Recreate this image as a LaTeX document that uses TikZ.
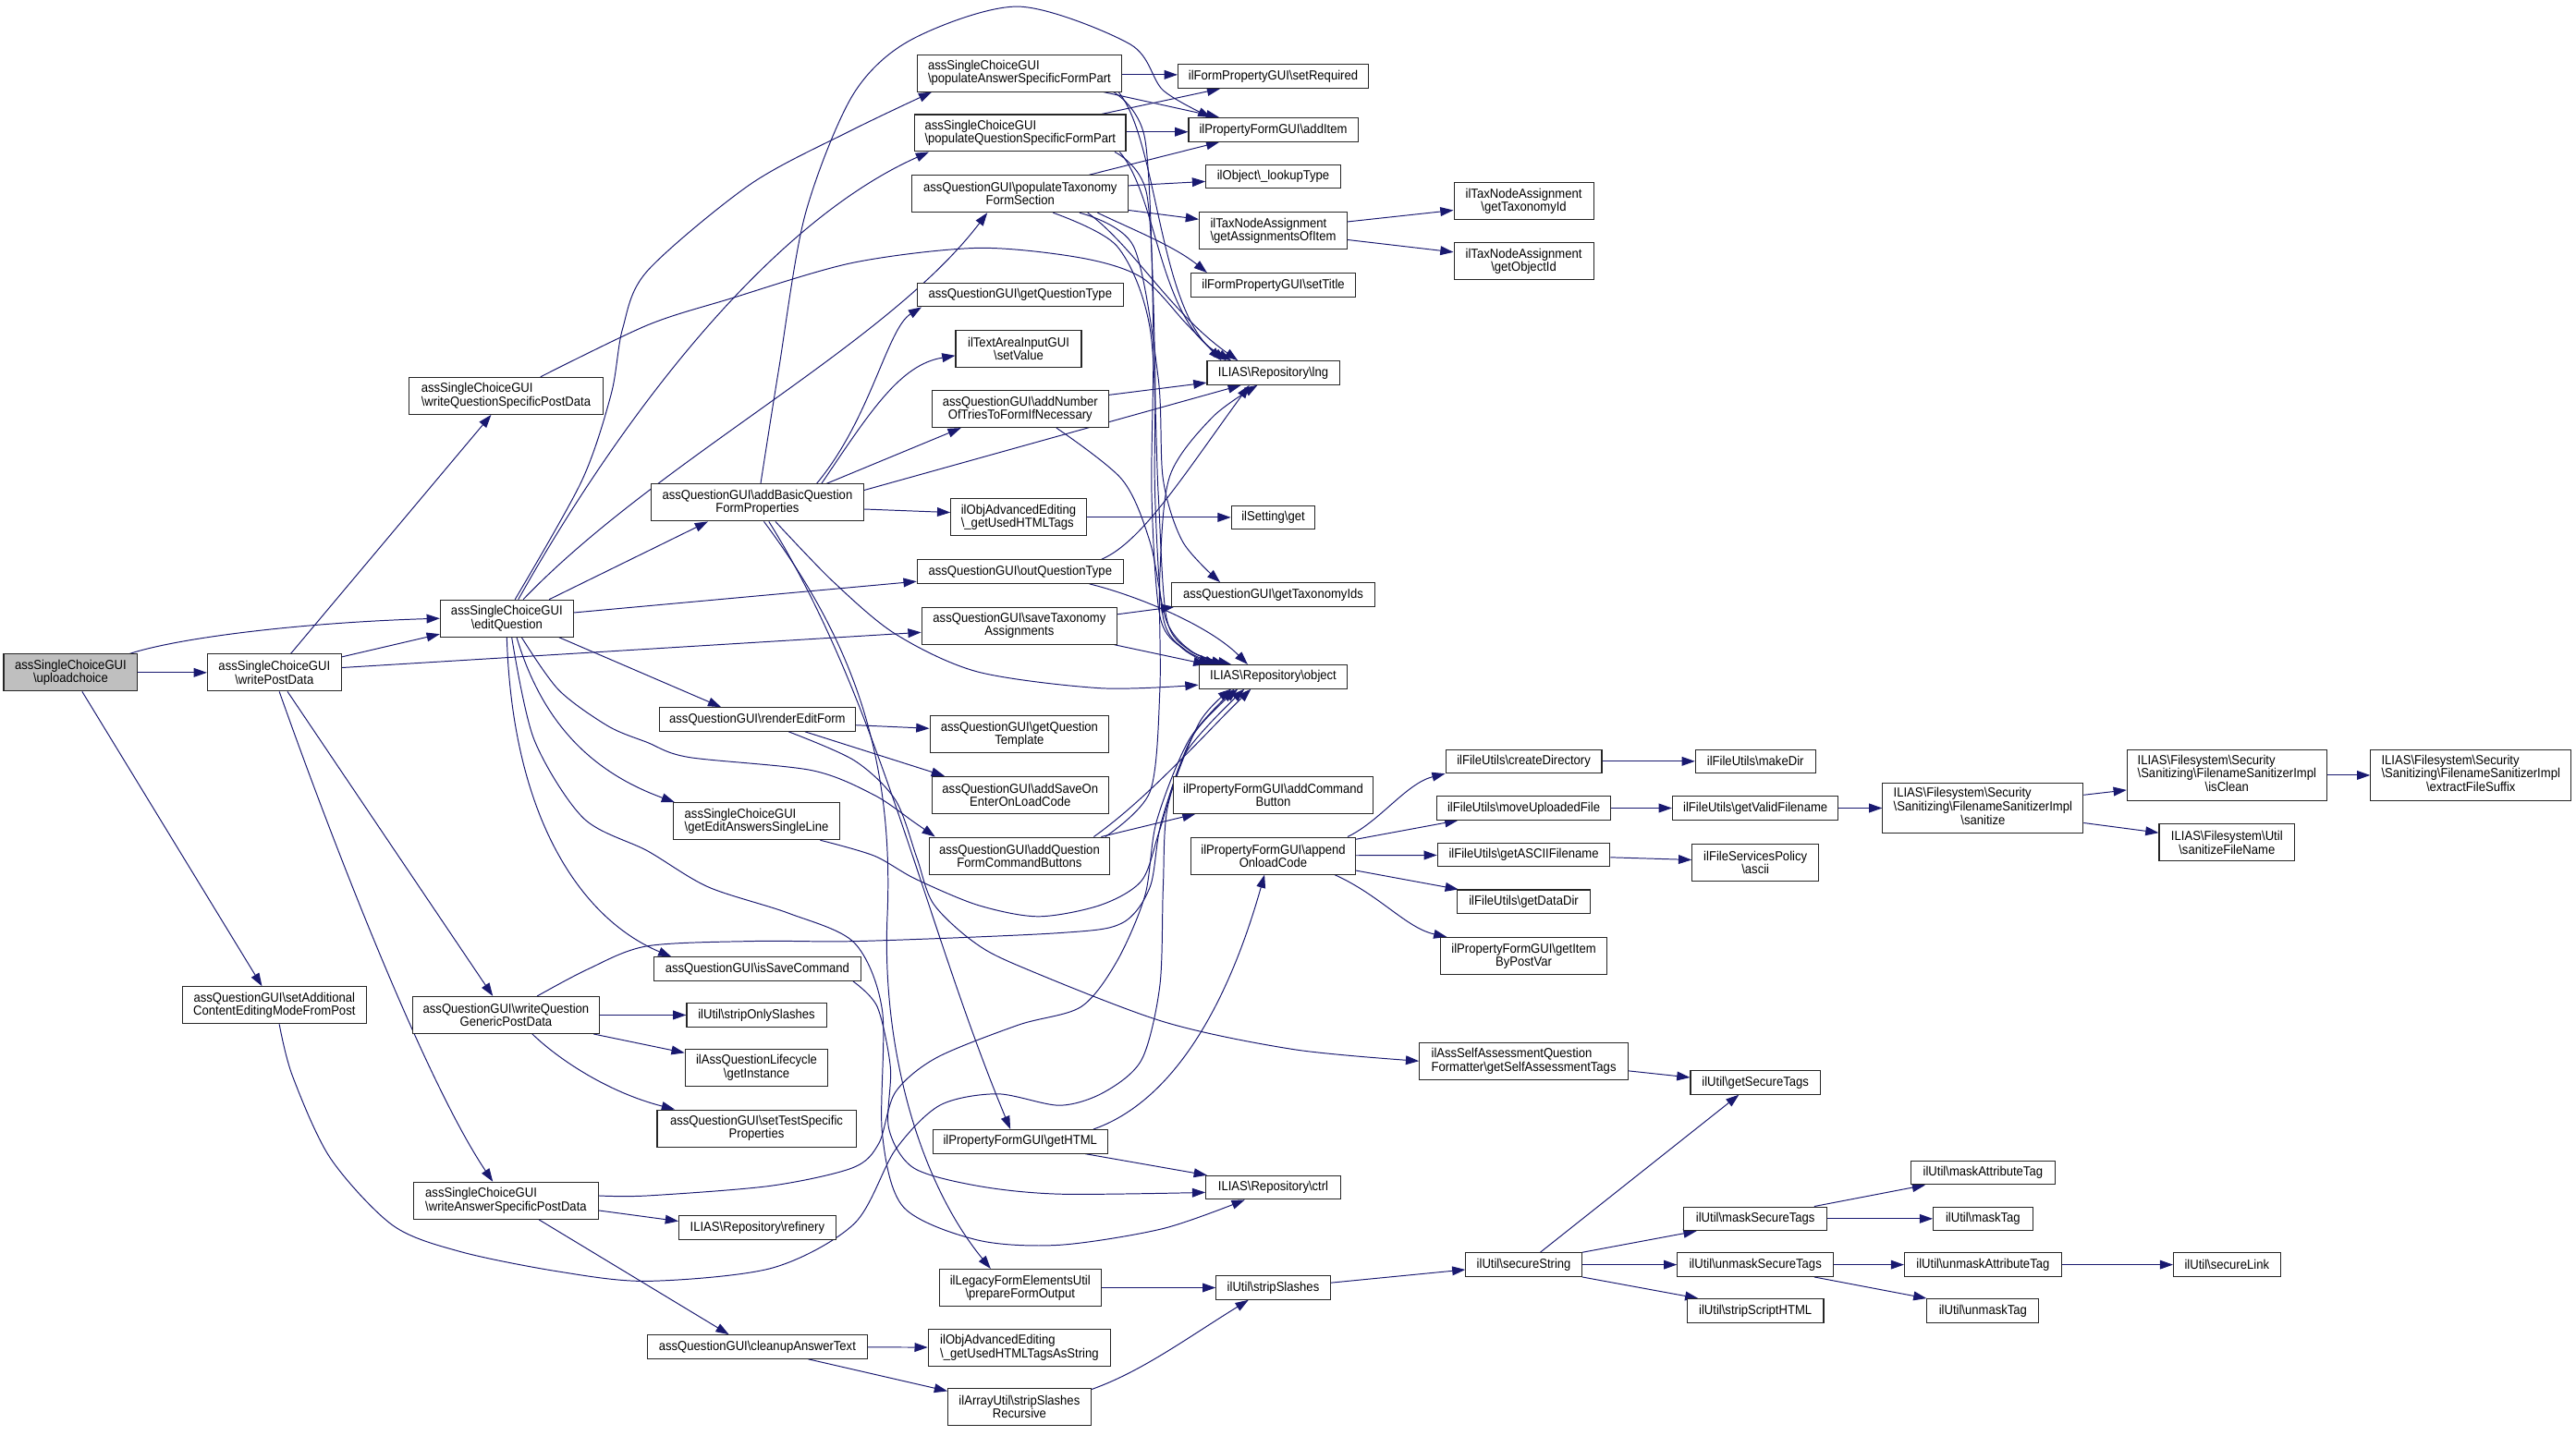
\documentclass[tikz,border=0pt]{standalone}
\usepackage{fontspec}
\setmainfont{Liberation Sans}[FakeStretch=0.92]
\usetikzlibrary{arrows.meta,calc,backgrounds}
\definecolor{edgeblue}{RGB}{25,25,112}
\definecolor{rootgray}{RGB}{191,191,191}
\newcommand{\bsl}{\textbackslash}
\newcommand{\midln}[1]{\multicolumn{1}{@{}c@{}}{#1}}
\tikzset{
  fnbox/.style={draw=black!85, line width=0.6pt, fill=white, inner sep=0pt, font=\fontsize{8}{8}\selectfont},
  fn/.style={fnbox, align=center, minimum height=14.4pt},
  fntwo/.style={fn, minimum height=22.5pt},
  fnthree/.style={fnbox, minimum height=30.6pt},
  lft/.style={align=left},
  callarrow/.style={draw=edgeblue, line width=0.55pt, -{Triangle[length=8pt,width=5.5pt]}},
}
\begin{document}
\begin{tikzpicture}[x=1pt,y=-1pt]
   \useasboundingbox (0,0) rectangle (1568,874.3);
   \node[fntwo, fill=rootgray, minimum width=81.5pt] (upload) at (43,409.5) {assSingleChoiceGUI\\\bsl uploadchoice};
   \node[fntwo, minimum width=81.5pt] (writepost) at (167,409.5) {assSingleChoiceGUI\\\bsl writePostData};
   \node[fntwo, minimum width=112pt] (setaddl) at (167,612) {assQuestionGUI\bsl setAdditional\\ContentEditingModeFromPost};
   \node[fntwo, lft, minimum width=118pt] (writeqspec) at (308,241) {assSingleChoiceGUI\\\bsl writeQuestionSpecificPostData};
   \node[fntwo, minimum width=81pt] (editq) at (308.5,376.5) {assSingleChoiceGUI\\\bsl editQuestion};
   \node[fntwo, minimum width=114pt] (writeqgen) at (308,618) {assQuestionGUI\bsl writeQuestion\\GenericPostData};
   \node[fntwo, lft, minimum width=112.5pt] (writeans) at (308,731) {assSingleChoiceGUI\\\bsl writeAnswerSpecificPostData};
   \node[fntwo, lft, minimum width=124pt] (popans) at (620.5,44.5) {assSingleChoiceGUI\\\bsl populateAnswerSpecificFormPart};
   \node[fntwo, lft, minimum width=128.5pt] (popques) at (621,81) {assSingleChoiceGUI\\\bsl populateQuestionSpecificFormPart};
   \node[fntwo, minimum width=131.5pt] (poptax) at (621,118) {assQuestionGUI\bsl populateTaxonomy\\FormSection};
   \node[fn, minimum width=125.5pt] (getqtype) at (621,179.5) {assQuestionGUI\bsl getQuestionType};
   \node[fntwo, minimum width=76.5pt] (setvalue) at (620,212.5) {ilTextAreaInputGUI\\\bsl setValue};
   \node[fntwo, minimum width=107.5pt] (addtries) at (621,249) {assQuestionGUI\bsl addNumber\\OfTriesToFormIfNecessary};
   \node[fntwo, minimum width=129.5pt] (addbasic) at (461,306) {assQuestionGUI\bsl addBasicQuestion\\FormProperties};
   \node[fntwo, lft, minimum width=82.5pt] (usedtags) at (620,315) {ilObjAdvancedEditing\\\bsl\_getUsedHTMLTags};
   \node[fn, minimum width=125.5pt] (outqtype) at (621,348) {assQuestionGUI\bsl outQuestionType};
   \node[fntwo, minimum width=119pt] (savetax) at (620.5,381) {assQuestionGUI\bsl saveTaxonomy\\Assignments};
   \node[fn, minimum width=119.5pt] (render) at (461,438) {assQuestionGUI\bsl renderEditForm};
   \node[fntwo, minimum width=109pt] (getqtpl) at (620.5,447) {assQuestionGUI\bsl getQuestion\\Template};
   \node[fntwo, minimum width=107.5pt] (addsave) at (621,484) {assQuestionGUI\bsl addSaveOn\\EnterOnLoadCode};
   \node[fntwo, lft, minimum width=101pt] (editsingle) at (460.5,500) {assSingleChoiceGUI\\\bsl getEditAnswersSingleLine};
   \node[fntwo, minimum width=110pt] (addcmdbtn) at (620.5,521) {assQuestionGUI\bsl addQuestion\\FormCommandButtons};
   \node[fn, minimum width=126pt] (issave) at (461,590) {assQuestionGUI\bsl isSaveCommand};
   \node[fn, minimum width=85pt] (striponly) at (460.5,618) {ilUtil\bsl stripOnlySlashes};
   \node[fntwo, minimum width=87pt] (lifecycle) at (460.5,650) {ilAssQuestionLifecycle\\\bsl getInstance};
   \node[fntwo, minimum width=121pt] (settest) at (460.5,687) {assQuestionGUI\bsl setTestSpecific\\Properties};
   \node[fn, minimum width=95.5pt] (refinery) at (461,747.5) {ILIAS\bsl Repository\bsl refinery};
   \node[fn, minimum width=134pt] (cleanup) at (461,820) {assQuestionGUI\bsl cleanupAnswerText};
   \node[fn, minimum width=106.5pt] (gethtml) at (621,695) {ilPropertyFormGUI\bsl getHTML};
   \node[fntwo, minimum width=98.5pt] (prepout) at (621,784) {ilLegacyFormElementsUtil\\\bsl prepareFormOutput};
   \node[fntwo, lft, minimum width=111pt] (tagsstr) at (620.5,820.5) {ilObjAdvancedEditing\\\bsl\_getUsedHTMLTagsAsString};
   \node[fntwo, minimum width=87pt] (striprec) at (620.5,856.5) {ilArrayUtil\bsl stripSlashes\\Recursive};
   \node[fn, minimum width=116pt] (setreq) at (775,46.5) {ilFormPropertyGUI\bsl setRequired};
   \node[fn, minimum width=103pt] (additem) at (775,79) {ilPropertyFormGUI\bsl addItem};
   \node[fn, minimum width=82pt] (lookup) at (775,107.5) {ilObject\bsl\_lookupType};
   \node[fntwo, lft, minimum width=90pt] (getassign) at (775,140.5) {ilTaxNodeAssignment\\\bsl getAssignmentsOfItem};
   \node[fn, minimum width=100pt] (settitle) at (775,173.5) {ilFormPropertyGUI\bsl setTitle};
   \node[fn, minimum width=80.5pt] (lng) at (775,227) {ILIAS\bsl Repository\bsl lng};
   \node[fn, minimum width=51pt] (settingget) at (775,315) {ilSetting\bsl get};
   \node[fn, minimum width=124pt] (gettaxids) at (775,362) {assQuestionGUI\bsl getTaxonomyIds};
   \node[fn, minimum width=90.5pt] (object) at (775,412) {ILIAS\bsl Repository\bsl object};
   \node[fntwo, minimum width=122pt] (addcmd) at (775,484) {ilPropertyFormGUI\bsl addCommand\\Button};
   \node[fntwo, minimum width=100pt] (appendonload) at (775,521) {ilPropertyFormGUI\bsl append\\OnloadCode};
   \node[fn, minimum width=82pt] (ctrl) at (775,723) {ILIAS\bsl Repository\bsl ctrl};
   \node[fn, minimum width=69.5pt] (stripsl) at (775,784) {ilUtil\bsl stripSlashes};
   \node[fntwo, minimum width=85pt] (gettaxid) at (927.5,122.5) {ilTaxNodeAssignment\\\bsl getTaxonomyId};
   \node[fntwo, minimum width=85pt] (getobjid) at (927.5,159) {ilTaxNodeAssignment\\\bsl getObjectId};
   \node[fn, minimum width=95pt] (createdir) at (927.5,463.5) {ilFileUtils\bsl createDirectory};
   \node[fn, minimum width=105.5pt] (moveup) at (927.5,492) {ilFileUtils\bsl moveUploadedFile};
   \node[fn, minimum width=105pt] (getascii) at (927.5,520.5) {ilFileUtils\bsl getASCIIFilename};
   \node[fn, minimum width=81pt] (getdatadir) at (927.5,549) {ilFileUtils\bsl getDataDir};
   \node[fntwo, minimum width=101pt] (getitem) at (927.5,582) {ilPropertyFormGUI\bsl getItem\\ByPostVar};
   \node[fntwo, lft, minimum width=127pt] (selftags) at (927.5,646) {ilAssSelfAssessmentQuestion\\Formatter\bsl getSelfAssessmentTags};
   \node[fn, minimum width=70.5pt] (securestr) at (927.5,770) {ilUtil\bsl secureString};
   \node[fn, minimum width=73pt] (makedir) at (1068.5,463.5) {ilFileUtils\bsl makeDir};
   \node[fn, minimum width=101pt] (validname) at (1068.5,492) {ilFileUtils\bsl getValidFilename};
   \node[fntwo, minimum width=77pt] (ascii) at (1068.5,525) {ilFileServicesPolicy\\\bsl ascii};
   \node[fn, minimum width=79pt] (securetags) at (1068.5,659) {ilUtil\bsl getSecureTags};
   \node[fn, minimum width=87pt] (masksec) at (1068.5,742) {ilUtil\bsl maskSecureTags};
   \node[fn, minimum width=95pt] (unmasksec) at (1068.5,770) {ilUtil\bsl unmaskSecureTags};
   \node[fn, minimum width=83pt] (stripscript) at (1068.5,798) {ilUtil\bsl stripScriptHTML};
   \node[fnthree, minimum width=122pt] (sanitize) at (1207,492) {\begin{tabular}{@{}l@{}}ILIAS\bsl Filesystem\bsl Security\\\bsl Sanitizing\bsl FilenameSanitizerImpl\\\midln{\bsl sanitize}\end{tabular}};
   \node[fn, minimum width=87.5pt] (maskattr) at (1207,714) {ilUtil\bsl maskAttributeTag};
   \node[fn, minimum width=60.5pt] (masktag) at (1207,742) {ilUtil\bsl maskTag};
   \node[fn, minimum width=95.5pt] (unmaskattr) at (1207,770) {ilUtil\bsl unmaskAttributeTag};
   \node[fn, minimum width=68pt] (unmasktag) at (1207,798) {ilUtil\bsl unmaskTag};
   \node[fnthree, minimum width=121.5pt] (isclean) at (1355.5,472) {\begin{tabular}{@{}l@{}}ILIAS\bsl Filesystem\bsl Security\\\bsl Sanitizing\bsl FilenameSanitizerImpl\\\midln{\bsl isClean}\end{tabular}};
   \node[fntwo, minimum width=82.5pt] (sanitizefn) at (1355.5,513) {ILIAS\bsl Filesystem\bsl Util\\\bsl sanitizeFileName};
   \node[fn, minimum width=65pt] (securelink) at (1355.5,770) {ilUtil\bsl secureLink};
   \node[fnthree, minimum width=122pt] (suffix) at (1504,472) {\begin{tabular}{@{}l@{}}ILIAS\bsl Filesystem\bsl Security\\\bsl Sanitizing\bsl FilenameSanitizerImpl\\\midln{\bsl extractFileSuffix}\end{tabular}};
   \begin{scope}[on background layer]
   \draw[callarrow] ($(upload.north east)+(-5,0)$) .. controls (110,388) and (185,379) .. (editq.west);
   \draw[callarrow] (upload) -- (writepost);
   \draw[callarrow] ($(upload.south)+(7,0)$) -- ($(setaddl.north)+(-7.5,0)$);
   \draw[callarrow] ($(writepost.north east)+(0,2)$) -- ($(editq.south west)+(0,-2)$);
   \draw[callarrow] ($(writepost.north)+(10,0)$) -- ($(writeqspec.south)+(-9,0)$);
   \draw[callarrow] ($(writepost.east)+(0,-3)$) -- ($(savetax.west)+(0,4)$);
   \draw[callarrow] ($(writepost.south)+(8,0)$) -- ($(writeqgen.north)+(-8,0)$);
   \draw[callarrow] ($(writepost.south)+(3,0)$) .. controls (205,520) and (260,660) .. ($(writeans.north)+(-8,0)$);
   \draw[callarrow] plot[smooth] coordinates {($(setaddl.south)+(3,0)$) (178,655) (201,705) (239,746) (280,762) (339,774) (394,780) (470,772) (520,745) (545,700) (572,673) (607,666) (645,673) (672,665) (695,645) (706,600) (708,540) (711,490) (730,440) ($(object.south west)+(20,0)$)};
   \draw[callarrow] plot[smooth] coordinates {($(editq.north)+(5,0)$) (354,293) (372,240) (379,200) (394,165) (457,112) (519,79) ($(popans.south west)+(9,0)$)};
   \draw[callarrow] ($(editq.north)+(7,0)$) .. controls (380,250) and (470,135) .. ($(popques.south west)+(9,0)$);
   \draw[callarrow] ($(editq.north)+(10,0)$) .. controls (400,280) and (540,210) .. ($(poptax.south)+(-20,0)$);
   \draw[callarrow] ($(editq.north east)+(-15,0)$) -- ($(addbasic.south west)+(35,0)$);
   \draw[callarrow] ($(editq.east)+(0,-3.5)$) -- ($(outqtype.west)+(0,6)$);
   \draw[callarrow] ($(editq.south east)+(-9,0)$) -- ($(render.north west)+(38,0)$);
   \draw[callarrow] ($(editq.south)+(6,0)$) .. controls (330,440) and (360,470) .. ($(editsingle.north west)+(1,0)$);
   \draw[callarrow] plot[smooth] coordinates {($(editq.south)+(9,0)$) (340,420) (370,442) (394,452) (419,461) (494,469) (532,484) (557,501) ($(addcmdbtn.north west)+(4,0)$)};
   \draw[callarrow] plot[smooth] coordinates {($(editq.south)+(3,0)$) (325,450) (355,498) (394,518) (431,540) (480,556) (520,574) (537,615) (537,690) (550,735) (595,755) (645,758) (708,748) ($(ctrl.south west)+(24,0)$)};
   \draw[callarrow] (editq.south) .. controls (312,500) and (355,560) .. ($(issave.north west)+(11,0)$);
   \draw[callarrow] plot[smooth] coordinates {($(addbasic.north)+(2,0)$) (474,225) (490,131) (519,58) (555,24) (620,4) (688,27) (708,55) ($(additem.north west)+(14,0)$)};
   \draw[callarrow] ($(addbasic.north east)+(-29,0)$) .. controls (530,255) and (540,200) .. ($(getqtype.south west)+(3,0)$);
   \draw[callarrow] ($(addbasic.north east)+(-26,0)$) .. controls (530,250) and (548,222) .. ($(setvalue.west)+(0,4)$);
   \draw[callarrow] ($(addbasic.north east)+(-23,0)$) -- ($(addtries.south west)+(18,0)$);
   \draw[callarrow] ($(addbasic.north east)+(0,4)$) -- ($(lng.south west)+(21,0)$);
   \draw[callarrow] ($(addbasic.east)+(0,4)$) -- ($(usedtags.west)+(0,-3)$);
   \draw[callarrow] plot[smooth] coordinates {($(addbasic.south)+(11,0)$) (507,354) (545,386) (595,409) (670,419) ($(object.west)+(0,5)$)};
   \draw[callarrow] ($(addbasic.south)+(7,0)$) .. controls (535,425) and (562,560) .. ($(gethtml.north)+(-6,0)$);
   \draw[callarrow] ($(addbasic.south)+(4,0)$) .. controls (515,385) and (545,455) .. (540,560) .. controls (537,640) and (560,720) .. ($(prepout.north)+(-18,0)$);
   \draw[callarrow] ($(popans.east)+(0,1)$) -- ($(setreq.west)+(0,-1)$);
   \draw[callarrow] ($(popans.south east)+(-11,0)$) -- ($(additem.north west)+(19,0)$);
   \draw[callarrow] ($(popans.south east)+(-2,0)$) .. controls (705,85) and (705,190) .. ($(lng.north west)+(12,0)$);
   \draw[callarrow] plot[smooth] coordinates {($(popans.south east)+(-5,0)$) (697,85) (702,200) (701,300) (706,375) (720,395) ($(object.north west)+(8,0)$)};
   \draw[callarrow] ($(popques.north east)+(-15,0)$) -- ($(setreq.south west)+(26,0)$);
   \draw[callarrow] ($(popques.east)+(0,-0.7)$) -- ($(additem.west)+(0,1.3)$);
   \draw[callarrow] ($(popques.south east)+(-4,0)$) .. controls (705,120) and (705,195) .. ($(lng.north west)+(15,0)$);
   \draw[callarrow] plot[smooth] coordinates {($(popques.south east)+(-7,0)$) (698,118) (703,220) (703,300) (708,376) (722,396) ($(object.north west)+(12,0)$)};
   \draw[callarrow] ($(poptax.north east)+(-24,0)$) -- ($(additem.south west)+(19,0)$);
   \draw[callarrow] ($(poptax.east)+(0,-5)$) -- ($(lookup.west)+(0,3)$);
   \draw[callarrow] ($(poptax.east)+(0,10)$) -- ($(getassign.west)+(0,-7)$);
   \draw[callarrow] ($(poptax.south east)+(-19,0)$) .. controls (690,140) and (715,150) .. ($(settitle.north west)+(10,0)$);
   \draw[callarrow] ($(poptax.south east)+(-25,0)$) .. controls (690,150) and (712,190) .. ($(lng.north west)+(19,0)$);
   \draw[callarrow] plot[smooth] coordinates {($(poptax.south east)+(-30,0)$) (690,150) (705,230) (708,292) (720,330) ($(gettaxids.north west)+(30,0)$)};
   \draw[callarrow] plot[smooth] coordinates {($(poptax.south)+(20,0)$) (680,150) (700,200) (705,300) (710,376) (724,396) ($(object.north west)+(16,0)$)};
   \draw[callarrow] ($(getassign.east)+(0,-5.5)$) -- ($(gettaxid.west)+(0,5.5)$);
   \draw[callarrow] ($(getassign.east)+(0,5.5)$) -- ($(getobjid.west)+(0,-5.5)$);
   \draw[callarrow] ($(addtries.north east)+(0,3)$) -- ($(lng.west)+(0,6)$);
   \draw[callarrow] plot[smooth] coordinates {($(addtries.south east)+(-32,0)$) (683,292) (700,330) (710,378) (726,397) ($(object.north west)+(20,0)$)};
   \draw[callarrow] (usedtags) -- (settingget);
   \draw[callarrow] ($(outqtype.north east)+(-13.5,0)$) .. controls (695,330) and (720,290) .. ($(lng.south west)+(26,0)$);
   \draw[callarrow] ($(outqtype.south east)+(-21,0)$) .. controls (690,362) and (735,380) .. ($(object.north west)+(30,0)$);
   \draw[callarrow] ($(savetax.east)+(0,-7)$) -- ($(gettaxids.south west)+(2,0)$);
   \draw[callarrow] ($(savetax.south east)+(-2,0)$) -- ($(object.north west)+(5,0)$);
   \draw[callarrow] ($(render.east)+(0,3.5)$) -- ($(getqtpl.west)+(0,-3.5)$);
   \draw[callarrow] ($(render.south east)+(-31,0)$) -- ($(addsave.north west)+(8,0)$);
   \draw[callarrow] plot[smooth] coordinates {($(render.south east)+(-41,0)$) (520,463) (545,487) (558,522) (568,550) (592,573) (620,588) (708,622) (788,639) (selftags.west)};
   \draw[callarrow] ($(addcmdbtn.north east)+(-5.5,0)$) -- ($(addcmd.south west)+(14,0)$);
   \draw[callarrow] ($(addcmdbtn.north east)+(-10,0)$) .. controls (700,485) and (735,445) .. ($(object.south west)+(32,0)$);
   \draw[callarrow] plot[smooth] coordinates {($(addcmdbtn.north east)+(-3,0)$) (700,482) (706,420) (706,350) (712,290) (738,254) ($(lng.south west)+(31,0)$)};
   \draw[callarrow] plot[smooth] coordinates {($(editsingle.south east)+(-12,0)$) (532,521) (557,535) (595,551) (632,558) (670,551) (695,536) (706,505) (722,458) ($(object.south west)+(28,0)$)};
   \draw[callarrow] plot[smooth] coordinates {($(writeqgen.north)+(19,0)$) (358,590) (394,576) (460,573) (524,573) (645,568) (683,562) (700,540) (707,500) (726,448) ($(object.south west)+(24,0)$)};
   \draw[callarrow] (writeqgen) -- (striponly);
   \draw[callarrow] ($(writeqgen.south east)+(-4,0)$) -- ($(lifecycle.west)+(0,-9)$);
   \draw[callarrow] ($(writeqgen.south)+(16,0)$) .. controls (340,645) and (370,665) .. ($(settest.north west)+(11,0)$);
   \draw[callarrow] ($(writeans.east)+(0,6)$) -- ($(refinery.west)+(0,-4)$);
   \draw[callarrow] ($(writeans.south)+(20,0)$) -- ($(cleanup.north west)+(50,0)$);
   \draw[callarrow] plot[smooth] coordinates {($(writeans.east)+(0,-3)$) (394,728) (469,722) (519,711) (535,696) (545,665) (570,644) (620,624) (658,613) (680,585) (697,545) (704,500) (724,450) ($(object.south west)+(22,0)$)};
   \draw[callarrow] plot[smooth] coordinates {($(issave.south east)+(-5,0)$) (534,613) (542,650) (541,687) (556,711) (595,722) (645,727) ($(ctrl.west)+(0,3)$)};
   \draw[callarrow] ($(gethtml.south east)+(-14,0)$) -- ($(ctrl.north west)+(1,0)$);
   \draw[callarrow] ($(gethtml.north east)+(-9,0)$) .. controls (710,672) and (745,620) .. ($(appendonload.south west)+(45,0)$);
   \draw[callarrow] ($(appendonload.north east)+(-5,0)$) .. controls (840,500) and (856,477) .. (createdir.south west);
   \draw[callarrow] ($(appendonload.east)+(0,-10)$) -- ($(moveup.south west)+(13,0)$);
   \draw[callarrow] (appendonload) -- (getascii);
   \draw[callarrow] ($(appendonload.east)+(0,9)$) -- ($(getdatadir.north west)+(1,0)$);
   \draw[callarrow] ($(appendonload.south east)+(-13,0)$) .. controls (840,545) and (856,565) .. ($(getitem.north west)+(4,0)$);
   \draw[callarrow] (createdir) -- (makedir);
   \draw[callarrow] (moveup) -- (validname);
   \draw[callarrow] ($(getascii.east)+(0,1.5)$) -- ($(ascii.west)+(0,-1.5)$);
   \draw[callarrow] (validname) -- (sanitize);
   \draw[callarrow] ($(sanitize.east)+(0,-8)$) -- ($(isclean.west)+(0,9)$);
   \draw[callarrow] ($(sanitize.east)+(0,9)$) -- ($(sanitizefn.west)+(0,-6)$);
   \draw[callarrow] (isclean) -- (suffix);
   \draw[callarrow] (prepout) -- (stripsl);
   \draw[callarrow] (cleanup) -- (tagsstr);
   \draw[callarrow] ($(cleanup.south)+(31,0)$) -- ($(striprec.north west)+(0,2)$);
   \draw[callarrow] ($(striprec.north east)+(0,1)$) .. controls (695,835) and (722,815) .. ($(stripsl.south west)+(20,0)$);
   \draw[callarrow] ($(stripsl.east)+(0,-3)$) -- ($(securestr.west)+(0,3)$);
   \draw[callarrow] ($(selftags.east)+(0,6)$) -- ($(securetags.west)+(0,-3)$);
   \draw[callarrow] ($(securestr.north)+(10,0)$) -- ($(securetags.south)+(-10,0)$);
   \draw[callarrow] (securestr.north east) -- ($(masksec.south west)+(8,0)$);
   \draw[callarrow] (securestr) -- (unmasksec);
   \draw[callarrow] (securestr.south east) -- ($(stripscript.north west)+(7,0)$);
   \draw[callarrow] ($(masksec.north east)+(-8,0)$) -- ($(maskattr.south west)+(9,0)$);
   \draw[callarrow] (masksec) -- (masktag);
   \draw[callarrow] (unmasksec) -- (unmaskattr);
   \draw[callarrow] ($(unmasksec.south east)+(-12,0)$) -- (unmasktag.north west);
   \draw[callarrow] (unmaskattr) -- (securelink);
   \draw[callarrow] plot[smooth] coordinates {($(writeqspec.north)+(21,0)$) (394,198) (444,182) (519,160) (595,151) (658,157) (695,169) (722,197) ($(lng.north west)+(9,0)$)};
   \end{scope}
\end{tikzpicture}
\end{document}
